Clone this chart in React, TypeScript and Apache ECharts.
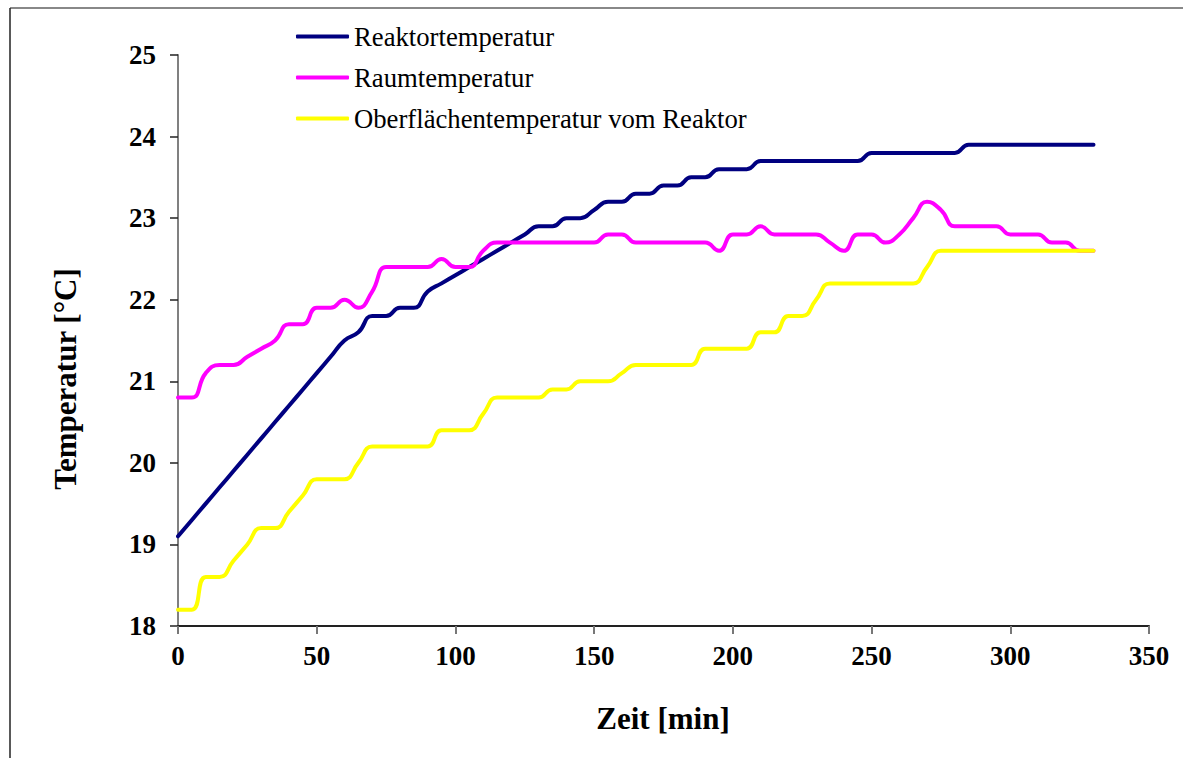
import React, { useEffect, useRef } from "react";
import * as echarts from "echarts";

const times = [
  0, 5, 10, 15, 20, 25, 30, 35, 40, 45,
  50, 55, 60, 65, 70, 75, 80, 85, 90, 95,
  100, 105, 110, 115, 120, 125, 130, 135, 140, 145,
  150, 155, 160, 165, 170, 175, 180, 185, 190, 195,
  200, 205, 210, 215, 220, 225, 230, 235, 240, 245,
  250, 255, 260, 265, 270, 275, 280, 285, 290, 295,
  300, 305, 310, 315, 320, 325, 330,
];

const reaktor = [
  19.1, 19.3, 19.5, 19.7, 19.9, 20.1, 20.3, 20.5, 20.7, 20.9,
  21.1, 21.3, 21.5, 21.6, 21.8, 21.8, 21.9, 21.9, 22.1, 22.2,
  22.3, 22.4, 22.5, 22.6, 22.7, 22.8, 22.9, 22.9, 23.0, 23.0,
  23.1, 23.2, 23.2, 23.3, 23.3, 23.4, 23.4, 23.5, 23.5, 23.6,
  23.6, 23.6, 23.7, 23.7, 23.7, 23.7, 23.7, 23.7, 23.7, 23.7,
  23.8, 23.8, 23.8, 23.8, 23.8, 23.8, 23.8, 23.9, 23.9, 23.9,
  23.9, 23.9, 23.9, 23.9, 23.9, 23.9, 23.9,
];

const raum = [
  20.8, 20.8, 21.1, 21.2, 21.2, 21.3, 21.4, 21.5, 21.7, 21.7,
  21.9, 21.9, 22.0, 21.9, 22.1, 22.4, 22.4, 22.4, 22.4, 22.5,
  22.4, 22.4, 22.6, 22.7, 22.7, 22.7, 22.7, 22.7, 22.7, 22.7,
  22.7, 22.8, 22.8, 22.7, 22.7, 22.7, 22.7, 22.7, 22.7, 22.6,
  22.8, 22.8, 22.9, 22.8, 22.8, 22.8, 22.8, 22.7, 22.6, 22.8,
  22.8, 22.7, 22.8, 23.0, 23.2, 23.1, 22.9, 22.9, 22.9, 22.9,
  22.8, 22.8, 22.8, 22.7, 22.7, 22.6, 22.6,
];

const oberflaeche = [
  18.2, 18.2, 18.6, 18.6, 18.8, 19.0, 19.2, 19.2, 19.4, 19.6,
  19.8, 19.8, 19.8, 20.0, 20.2, 20.2, 20.2, 20.2, 20.2, 20.4,
  20.4, 20.4, 20.6, 20.8, 20.8, 20.8, 20.8, 20.9, 20.9, 21.0,
  21.0, 21.0, 21.1, 21.2, 21.2, 21.2, 21.2, 21.2, 21.4, 21.4,
  21.4, 21.4, 21.6, 21.6, 21.8, 21.8, 22.0, 22.2, 22.2, 22.2,
  22.2, 22.2, 22.2, 22.2, 22.4, 22.6, 22.6, 22.6, 22.6, 22.6,
  22.6, 22.6, 22.6, 22.6, 22.6, 22.6, 22.6,
];

const seriesNames = [
  "Reaktortemperatur",
  "Raumtemperatur",
  "Oberflächentemperatur vom Reaktor",
];
const seriesColors = ["#000080", "#FF00FF", "#FFFF00"];
const xAxisTitle = "Zeit [min]";
const yAxisTitle = "Temperatur [°C]";

const FONT = "'Liberation Serif', 'Times New Roman', serif";

export default function App() {
  const ref = useRef<HTMLDivElement>(null);

  useEffect(() => {
    if (!ref.current) return;
    const chart = echarts.init(ref.current, undefined, { renderer: "svg" });
    const allData = [reaktor, raum, oberflaeche];
    chart.setOption({
      animation: false,
      backgroundColor: "#ffffff",
      grid: { left: 178, right: 34, top: 55, bottom: 132, containLabel: false },
      legend: {
        orient: "vertical",
        left: 296,
        top: 23,
        padding: 0,
        itemWidth: 53,
        itemHeight: 4,
        itemGap: 14,
        icon: "roundRect",
        data: seriesNames,
        textStyle: { fontFamily: FONT, fontSize: 26.7, color: "#000" },
      },
      xAxis: {
        type: "value",
        min: 0,
        max: 350,
        interval: 50,
        axisLine: { show: true, onZero: false, lineStyle: { color: "#222", width: 2 } },
        axisTick: { show: true, inside: false, length: 8, lineStyle: { color: "#777", width: 2 } },
        axisLabel: {
          margin: 16,
          fontFamily: FONT,
          fontWeight: "bold",
          fontSize: 27,
          color: "#000",
        },
        splitLine: { show: false },
      },
      yAxis: {
        type: "value",
        min: 18,
        max: 25,
        interval: 1,
        axisLine: { show: true, lineStyle: { color: "#808080", width: 2 } },
        axisTick: { show: true, inside: false, length: 8, lineStyle: { color: "#222", width: 1.5 } },
        axisLabel: {
          margin: 22,
          fontFamily: FONT,
          fontWeight: "bold",
          fontSize: 27,
          color: "#000",
        },
        splitLine: { show: false },
      },
      series: seriesNames.map((name, i) => ({
        name,
        type: "line",
        smooth: 0.5,
        symbol: "none",
        showSymbol: false,
        data: times.map((t, k) => [t, allData[i][k]]),
        lineStyle: { color: seriesColors[i], width: 4, cap: "round", join: "round" },
        itemStyle: { color: seriesColors[i] },
        z: 2 + i,
      })),
      graphic: [
        {
          type: "line",
          shape: { x1: 10, y1: 8, x2: 1183, y2: 8 },
          style: { stroke: "#888", lineWidth: 2 },
        },
        {
          type: "line",
          shape: { x1: 10, y1: 8, x2: 10, y2: 758 },
          style: { stroke: "#222", lineWidth: 1.5 },
        },
        {
          type: "text",
          x: 663,
          y: 718,
          style: {
            text: xAxisTitle,
            fontFamily: FONT,
            fontWeight: "bold",
            fontSize: 31,
            fill: "#000",
            align: "center",
            verticalAlign: "middle",
          },
        },
        {
          type: "text",
          x: 65,
          y: 379,
          rotation: Math.PI / 2,
          style: {
            text: yAxisTitle,
            fontFamily: FONT,
            fontWeight: "bold",
            fontSize: 31,
            fill: "#000",
            align: "center",
            verticalAlign: "middle",
          },
        },
      ],
    });
    return () => chart.dispose();
  }, []);

  return (
    <div
      ref={ref}
      style={{ position: "absolute", left: 0, top: 0, width: 1183, height: 758 }}
    />
  );
}
